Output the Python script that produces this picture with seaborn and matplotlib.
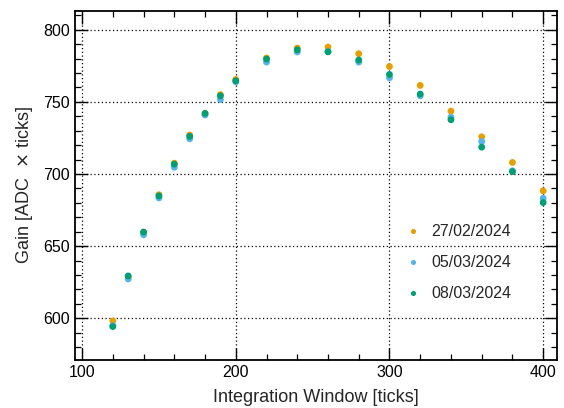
import matplotlib
matplotlib.use("Agg")
import matplotlib.pyplot as plt
import seaborn as sns
import pandas as pd
from matplotlib.ticker import MultipleLocator

window = [120, 130, 140, 150, 160, 170, 180, 190, 200, 220, 240, 260, 280, 300, 320, 340, 360, 380, 400]
gain_2702 = [598.1, 628.5, 659.7, 685.6, 707.5, 727.0, 742.0, 755.0, 765.5, 780.4, 787.3, 788.0, 783.4, 774.5, 761.4, 743.6, 725.8, 708.0, 688.3]
gain_0503 = [594.8, 627.2, 657.8, 683.4, 704.6, 724.4, 740.9, 751.6, 763.9, 777.6, 784.6, 784.9, 777.6, 766.7, 754.2, 739.4, 722.5, 702.2, 683.2]
gain_0803 = [594.2, 629.3, 659.7, 684.8, 706.8, 726.1, 742.0, 754.2, 764.6, 779.7, 786.1, 784.7, 779.0, 769.0, 755.4, 737.6, 718.6, 701.6, 680.2]
dates = ["27/02/2024", "05/03/2024", "08/03/2024"]
colors = ["#E69F00", "#56B4E9", "#009E73"]

rows = []
for d, g in zip(dates, [gain_2702, gain_0503, gain_0803]):
    for w, v in zip(window, g):
        rows.append({"window": w, "gain": v, "date": d})
df = pd.DataFrame(rows)

sns.set_style("ticks")
plt.rcParams["font.family"] = ["Liberation Sans", "DejaVu Sans"]

fig = plt.figure(figsize=(5.64, 4.08), dpi=100)
ax = fig.add_axes([0.1330, 0.1176, 0.8546, 0.8554])

sns.scatterplot(data=df, x="window", y="gain", hue="date", hue_order=dates,
                palette=colors, s=24, linewidth=0, ax=ax, zorder=3)

ax.set_xlim(95.4, 409)
ax.set_ylim(571, 813)
ax.xaxis.set_major_locator(MultipleLocator(100))
ax.xaxis.set_minor_locator(MultipleLocator(20))
ax.yaxis.set_major_locator(MultipleLocator(50))
ax.yaxis.set_minor_locator(MultipleLocator(10))
ax.tick_params(which="both", direction="in", top=True, right=True, colors="black", labelsize=11.5)
ax.tick_params(which="major", length=9, width=1.0)
ax.tick_params(which="minor", length=4.5, width=0.9)
ax.grid(True, which="major", linestyle=(0, (1, 2)), color="black", linewidth=0.9)
for sp in ax.spines.values():
    sp.set_linewidth(1.3)
    sp.set_color("black")

ax.set_xlabel("Integration Window [ticks]", fontsize=13, labelpad=6.5)
ax.set_ylabel("Gain [ADC  $\\times$ ticks]", fontsize=13, labelpad=6)

leg = ax.legend(loc="center left", bbox_to_anchor=(0.639, 0.279), frameon=False,
                fontsize=11.5, handletextpad=0.1, labelspacing=1.0, markerscale=0.75,
                title=None)
leg.set_zorder(5)

fig.savefig("out.png", dpi=100)
